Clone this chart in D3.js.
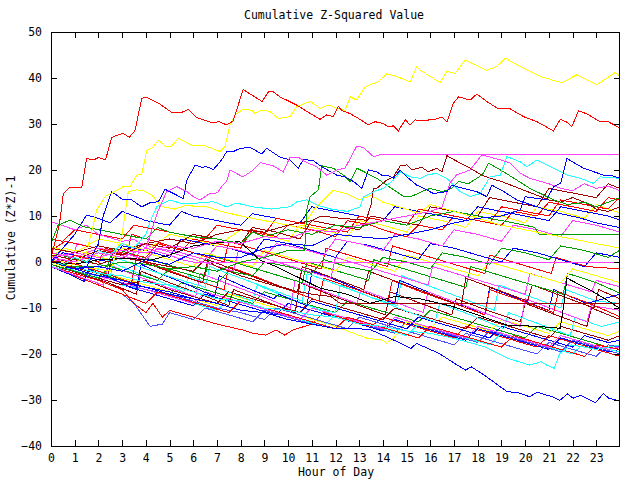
<!DOCTYPE html>
<html><head><meta charset="utf-8">
<script src="https://cdn.jsdelivr.net/npm/d3@7"></script>
<style>
body{margin:0;background:#fff;}
text{font-family:"DejaVu Sans Mono","Liberation Mono",monospace;font-size:11.5px;fill:#000;}
</style></head>
<body><svg id="c" width="640" height="480"></svg>
<script>
// ---------- DATA ----------
const title = "Cumulative Z-Squared Value";
const xLabel = "Hour of Day";
const yLabel = "Cumulative (Z*Z)-1";
const hourTicks = d3.range(0, 24);
const valueTicks = [-40,-30,-20,-10,0,10,20,30,40,50];

const redTop = [[0,1],[0.35,8],[0.52,14.9],[0.8,16.3],[1.3,16.3],[1.5,22.5],[1.8,22.2],[2.0,22.7],[2.3,22.2],[2.56,27.1],[3.04,28],[3.3,27.1],[3.54,28.5],[3.83,35.6],[4.04,35.8],[4.6,34.3],[5.1,32.5],[5.5,32.5],[5.8,33.2],[6.15,31.4],[6.8,30.3],[7.1,30.5],[7.4,29.8],[7.67,30.6],[7.83,33],[8.1,37.5],[8.47,36.3],[8.9,34.9],[9.17,37],[9.38,37],[9.66,35.9],[10.37,34.1],[10.93,32.3],[11.35,31],[11.63,32],[11.9,31.6],[12.12,33.8],[12.27,32.9],[12.6,32.3],[12.97,31.2],[13.39,29.8],[13.67,30.5],[14.02,30.1],[14.23,29.4],[14.44,29.6],[14.65,28.5],[14.94,30.9],[15.15,29.8],[15.36,30.9],[15.57,30.7],[16.2,31],[16.49,31.5],[16.7,30.4],[16.97,34.5],[17.19,35.9],[17.68,35.2],[17.96,36.5],[18.38,34.9],[18.87,33.3],[19.37,33.3],[19.93,31.6],[20.5,30.5],[21.19,28.5],[21.48,31],[21.76,30.4],[21.97,29.4],[22.25,32.9],[22.6,32.2],[23.16,30.5],[23.5,30.5],[24,29.1]];
const yellowTop = [[0,0],[0.5,-1],[1,-0.5],[1.5,2],[1.93,11.3],[2.28,14.2],[3.05,16.4],[3.33,16.4],[3.62,18.9],[3.83,19.1],[4.04,24.3],[4.25,24.7],[4.53,26.5],[4.81,25.2],[5.09,25.2],[5.37,26.9],[5.94,25.4],[6.43,25.4],[7.13,24],[7.34,25.1],[7.55,29.8],[7.76,32],[8.1,33.2],[8.47,33],[8.6,32.3],[8.89,33],[9.24,32.7],[9.59,31.2],[10.08,31.6],[10.37,33.8],[10.93,34.9],[11.35,33.4],[11.7,34.1],[12.05,33.4],[12.4,33],[12.62,35.9],[12.9,35.2],[13.25,38.1],[13.46,38.5],[13.81,39.2],[14.16,40.9],[14.59,40.3],[15.15,39.2],[15.43,42.5],[15.57,41.7],[16.41,39],[16.7,41.4],[17.05,41],[17.47,43.9],[18.38,41.7],[18.8,42.5],[19.16,44.3],[19.79,42.5],[20.35,41],[20.77,40.1],[21.55,39],[22.18,40.7],[23.02,38.5],[23.8,41.2],[24,40.4]];
const yellowMid = [[0,0],[1,-1],[2,-1.5],[2.5,-2],[3.0,6],[3.26,15.3],[3.62,15.7],[3.9,15.5],[4.25,14.6],[4.53,12.8],[4.74,12],[5.2,11.5],[5.73,12.4],[6.15,12],[6.57,12],[7.2,11],[8,10],[9,9],[10,8],[10.6,7.3],[11.07,11.3],[11.5,13.5],[11.9,15.6],[12.5,14.8],[13,13.5],[13.5,14.5],[14,13],[15,11.5],[15.5,10.5],[16,12.5],[17,11],[18,9.5],[19,8],[20,7],[21,6],[22,5],[23,4],[24,3]];
const blueUpper = [[0,0],[0.5,-1],[1,-1.5],[1.5,-1],[2,4],[2.2,10],[2.56,15.3],[3.05,13.5],[3.4,13.5],[3.83,12],[4.18,12.9],[4.53,13.1],[4.81,15.8],[5.16,14.9],[5.58,13.8],[5.73,17.8],[6.08,21.1],[6.36,20.6],[6.57,20.7],[6.85,20.1],[7.2,22.2],[7.41,24],[7.69,24],[7.97,24.7],[8.4,24.9],[8.89,23.5],[9.1,24.7],[9.66,22.8],[10.08,22.2],[10.43,20.4],[10.65,22.3],[11.07,22],[11.42,20.7],[12.05,18.9],[12.4,18.5],[12.76,17.5],[13.11,16],[13.39,20],[13.74,19.6],[13.95,18.9],[14.16,18.9],[14.44,18.2],[14.73,20],[15.01,18.5],[15.43,16.7],[15.57,16.4],[16.13,14.9],[16.7,15.3],[16.9,16.7],[17.4,16],[17.96,15.3],[18.38,14.2],[18.6,16.7],[19.1,15.3],[19.65,13.5],[20.2,12.5],[20.8,11.5],[21.5,10.5],[22.3,9.6],[23,8.5],[24,7.5]];
const blueLate = [[0,0],[1,-1.5],[2,-1],[3,-2],[4,0.5],[5,-0.5],[6,2],[7,1],[8,1],[9,3],[10,4],[11,3.5],[12,6],[13,5.5],[14,5],[15,6],[16,7],[17,8.5],[18,9.5],[19,10],[19.79,11.3],[20,14.2],[20.9,13.5],[21.2,16.4],[21.5,17.1],[21.76,22.5],[22.46,20.4],[23.3,18.9],[23.6,18.9],[24,18.2]];
const magentaFlatTop = [[0,1],[1,0],[2,2],[3,1],[4,3],[4.53,11.3],[4.88,15.3],[5.3,16.4],[5.73,15.3],[6,14.2],[6.29,13.5],[6.7,14.9],[6.92,14.9],[7.06,15.3],[7.2,16.4],[7.41,17.5],[7.55,20],[8.1,18.5],[8.53,20],[8.82,21.6],[9.38,20.9],[9.8,19.6],[10.08,22.8],[10.43,22.8],[10.72,21.8],[11.21,20.7],[11.63,18.9],[12.05,20],[12.4,20.4],[12.9,25.2],[13.18,24.9],[13.6,22.9],[13.95,23.4],[24,23.4]];
const blueBottom = [[0,0],[1,-1.5],[2,-3],[3,-4],[4,-5.5],[5,-6.5],[6,-8],[7,-9],[8,-10.5],[9,-11],[10,-12.5],[11,-13.5],[12,-14.5],[13,-14.5],[13.51,-14.8],[14.47,-17],[15.18,-18.8],[15.42,-17.7],[16.38,-19.9],[17.01,-22],[17.49,-23.5],[17.73,-22.8],[18.28,-24.6],[19.24,-28.2],[19.71,-28.4],[20.19,-29.3],[20.51,-28.3],[21.14,-29.3],[21.46,-30.1],[21.78,-28.7],[22.02,-29.6],[22.34,-29],[22.97,-30.6],[23.29,-28.6],[23.53,-29.6],[24,-30.2]];
const cyanBottom = [[0,0],[1,-1],[2,-2.5],[3,-3],[4,-4.5],[5,-5],[6,-6.5],[7,-8],[8,-8.5],[9,-10],[10,-10.5],[11,-11.5],[12,-12],[13,-13.5],[14,-14],[15,-15],[16,-15.5],[17,-16.6],[18.28,-18.4],[19.24,-20.9],[20.19,-22.4],[20.67,-21.7],[20.9,-22.4],[21.22,-23.1],[21.46,-19.9],[21.94,-18],[22.5,-18.5],[23,-19],[24,-18]];
const greenRise = [[0,0],[1,-1],[2,-1],[3,0],[4,-0.5],[5,-1.5],[6,-1],[7,-2],[8,0],[9,1],[10,2.5],[10.7,2.6],[10.79,11.3],[10.93,14.2],[11.28,15.7],[11.42,20.9],[11.9,20.4],[12.33,18.9],[12.62,17.5],[12.9,20.4],[13.32,19.3],[13.74,18.2],[14.16,16.7],[14.86,14.3],[15.22,14.3],[15.64,15.3],[15.99,16],[16.5,15.3],[16.9,16],[17.2,17.5],[17.6,17],[18.2,19],[18.45,21.5],[19.09,19.6],[19.65,17.8],[20.2,16],[21.2,13.5],[21.8,12.5],[22.5,13],[23,12],[23.5,13],[24,14]];
const greenFlat = [[0,4],[0.3,8],[0.8,9.1],[1.36,7.7],[2,7],[3,6],[4,5],[4.5,7.5],[5,6.5],[6,5.5],[7,5],[8,4],[8.5,6.5],[9,5.5],[10,7],[11,6],[12,8],[13,7.5],[14,9],[15,8],[16,10],[17,11],[18,10],[19,9],[20,8],[20.4,7.5],[20.6,6],[24,6]];
const magentaFlatZero = [[0,8.8],[1,7],[1.5,8],[2,6],[3,4.5],[3.5,5],[4,3],[5,1.5],[5.5,0.5],[6,0],[24,0]];
const darkredFlat = [[0,0],[1,0.5],[2,-0.5],[3,1],[4,0],[5,-1],[6,-2],[6.5,0.5],[7,-1],[8,-3],[9,-4.5],[10,-6],[11,-7],[11.8,-7.5],[12.2,-9],[24,-9]];
const blackLine = [[0,0],[1,-0.5],[2,0.5],[3.3,0.8],[4.2,0.4],[5,1.5],[6,3.5],[6.85,4.1],[7.97,4.4],[8.82,0.4],[9.5,-1],[10.37,-3.2],[11.35,-5.7],[12.5,-7],[13.46,-9],[14.5,-7.5],[15.57,-8],[16.97,-9.7],[18.38,-12.2],[19.23,-13.7],[20.5,-14],[21.48,-14.4],[21.62,-9.7],[21.76,-3.5],[22.88,-6.5],[23.45,-8.3],[24,-10.1]];
const darkredRise = [[0,3],[1,2],[2,3.5],[3,2.5],[4,4],[5,5],[6,4],[7,6],[8,7],[9,6.5],[10,8],[11,9],[11.4,10],[12.2,9.5],[13.3,9.1],[13.5,12.5],[13.6,16],[13.74,16],[14.16,17.8],[14.44,18.5],[14.73,20.9],[15.01,21.1],[15.22,20],[15.64,20.6],[15.92,19.6],[16.27,20.4],[16.49,19.6],[16.7,23.1],[17.26,21.5],[17.68,20.4],[18.17,18.9],[18.52,18.2],[19,17.5],[19.5,16.5],[20,15.5],[20.5,14.5],[21,13.5],[21.5,13],[22,14],[22.5,13],[23,11.5],[23.5,11],[24,12]];
const cyanRise = [[0,0],[0.5,-0.5],[1,1],[1.5,0],[2,2.5],[2.5,1.5],[3,4],[3.5,3],[4,6],[4.2,9],[4.46,12],[5.02,13.5],[5.44,12.8],[6.15,12.8],[6.85,13.1],[7.41,12],[7.83,12.8],[8.5,12],[9.3,11.5],[10.08,12],[10.37,13.1],[10.79,13.5],[11.21,12.4],[11.8,11.5],[12.5,11],[13.04,12],[13.18,14.2],[13.6,15.3],[14.02,16],[14.44,17.8],[14.73,19.6],[15.15,18.5],[15.57,18.2],[15.85,18.9],[16.27,19.3],[16.7,18.2],[17.26,15.3],[17.68,14.2],[18.1,14.9],[18.52,18.5],[18.95,18.9],[19.23,22.9],[19.79,21.8],[20.07,20.7],[20.5,22.2],[20.77,21.5],[21.2,20.4],[21.76,18.9],[22.32,18.2],[22.88,17.1],[23.16,18.5],[24,18.2]];
const magentaPeak = [[0,1],[1,2],[2,1],[3,2.5],[4,2],[5,3.5],[6,3],[7,4.5],[8,4],[9,5.5],[10,5],[11,7],[12,6.5],[13,8],[14,9],[15,10],[16,11],[16.5,12],[16.83,17.2],[17.1,18.9],[17.68,20],[18.17,23.3],[18.45,22.9],[18.95,22.2],[19.37,21.5],[19.79,19.3],[20.2,18.2],[21,17],[21.5,16],[22,15.5],[22.5,17],[23,16],[23.5,16.5],[24,15.5]];

const b01 = [[0,0.5],[0.5,-0.5],[1,1.5],[1.5,0.8],[2,0],[2.3,3],[3,2],[4,1],[4.5,4],[5.5,2.5],[6,5],[7,4],[8,3],[8.5,7],[9.5,5.5],[10,8],[11,7],[12,5.5],[12.5,9],[13.5,8],[14,7],[15,5.5],[15.5,8],[16.5,7],[17,10],[18,9],[19,8],[19.5,11],[20.5,10],[21,13],[22,12],[23,11],[23.5,14],[24,13.5]];
const b02 = [[0,-0.5],[1,-2],[2,-3.5],[2.5,-1],[3.5,-2.5],[4.5,-4],[5,-1.5],[6,-3],[7,-4.5],[7.5,-2],[8.5,-3],[9,0],[10,-1],[11,-2.5],[11.5,0.5],[12.5,-1],[13.5,-2],[14,1],[15,0],[16,-1.5],[16.5,2],[17.5,1],[18.5,-0.5],[19,3],[20,2],[21,0.5],[21.5,3.5],[22.5,2.5],[23.5,1],[24,2.6]];
const b03 = [[0,-1],[0.7,-2.5],[1.4,-4.2],[1.6,-1.5],[2.5,-3.5],[3.6,-6],[3.8,-0.5],[4.6,-2.5],[5.8,-5],[6.9,-7.5],[7.1,-3],[8.2,-5.5],[9.4,-8],[9.6,-7],[10.8,-9.5],[11,-2],[12.3,-4.5],[13.2,-6.5],[14.5,-9],[14.7,-4],[15.9,-6.5],[17.2,-9],[18.3,-11.5],[18.5,-5.5],[19.7,-8],[21,-10.5],[21.2,-6],[22.6,-9],[24,-7]];
const b04 = [[0,2],[1,1],[2,3],[3,2],[4,0.5],[4.5,3],[5.5,2],[6.5,0.5],[7,3.5],[8,2.5],[9,1],[9.5,4],[10.5,3],[11.5,1.5],[12,5],[13,4],[14,2.5],[14.5,6],[15.5,5],[16.5,3.5],[17,7],[18,6],[19,4.5],[19.5,8],[20.5,7],[21.5,5.5],[22,9],[23,8],[24,6.5]];
const b05 = [[0,0],[0.8,-1.5],[1.9,-3.5],[2.1,1],[3.2,-1.5],[4.5,-4],[5.6,-6.5],[5.8,-3],[7.2,-6],[8.5,-8.5],[8.7,-5],[10.1,-8],[11.4,-10.5],[12,-11],[12.2,-5],[13.4,-7.5],[14.9,-10.5],[16.2,-13],[16.4,-9],[17.7,-11.5],[19.1,-14.5],[19.3,-11],[20.6,-13.5],[21.9,-16],[22.1,-12],[23.2,-14],[24,-13]];
const b06 = [[0,-0.5],[1.2,-2.5],[2.4,-4.5],[3.6,-7],[3.8,-2],[5,-4.5],[6.3,-7],[7.5,-9.5],[7.7,-6],[9,-8.5],[10.3,-11],[10.5,-4.5],[11.7,-7],[13,-9.5],[14.1,-11.5],[14.3,-6.5],[15.6,-9],[16.9,-11.5],[17.1,-8],[18.4,-10.5],[19.8,-13],[20,-9],[21.3,-11.5],[22.6,-14],[22.8,-10],[24,-12.5]];
const b07 = [[0,1],[0.5,3],[1.5,2],[2.5,0.5],[3,3],[4,2],[5,0.5],[6,-1],[6.5,2],[7.5,0.5],[8.5,-1],[9,2.5],[10,1],[11,-0.5],[12,-2],[12.5,1],[13.5,-0.5],[14.5,-2],[15,1.5],[16,0],[17,-1.5],[18,-3],[18.5,0],[19.5,-1.5],[20.5,-3],[21.5,-4.5],[22,-1.5],[23,-3],[24,-4.5]];
const b08 = [[0,-1],[1,-3],[2,-5],[3,-7],[3.5,-9],[4.18,-14],[4.7,-13.5],[5,-11],[6,-12.5],[6.5,-10],[7.5,-11.5],[8.5,-13],[9,-10.5],[10,-12],[11,-13.5],[11.5,-11],[12.5,-12.5],[13.5,-14],[14.5,-15.5],[15,-13],[16,-14.5],[17,-16],[18,-17.5],[18.5,-15],[19.5,-16.5],[20.5,-18],[21.5,-19.5],[22,-17],[23,-18.5],[24,-20]];
const b09 = [[0,-1],[1,-2.5],[2,-4],[3,-6],[3.5,-9],[4,-11],[4.3,-9],[4.7,-12],[5,-10.5],[6,-12],[7,-13.5],[8.1,-14.8],[8.5,-15.5],[9.06,-15.9],[9.5,-14.8],[9.86,-15.9],[10.2,-14.8],[11,-13.5],[11.5,-11],[12.5,-12.5],[13.5,-14],[14,-12],[15,-13.5],[16,-15],[17,-16.5],[17.5,-14],[18.5,-15.5],[19.5,-17],[20.5,-18.5],[21,-16],[22,-17.5],[23,-19],[24,-20.5]];
const b10 = [[0,0],[1,-1],[2,-2.5],[3,-4],[4,-5.5],[5,-7],[5.5,-4.5],[6.5,-6],[7.5,-7.5],[8.5,-9],[9,-6.5],[10,-8],[11,-9.5],[12,-11],[12.5,-8.5],[13.5,-10],[14.5,-11.5],[15.5,-13],[16,-10.5],[17,-12],[18,-13.5],[19,-15],[20,-16.5],[20.5,-14],[21.5,-15.5],[22.5,-17],[23.5,-18.5],[24,-19]];
const b11 = [[0,-0.5],[1,-2],[2,-3.5],[3,-5],[4,-6.5],[5,-8],[6,-9.5],[6.5,-7],[7.5,-8.5],[8.5,-10],[9.5,-11.5],[10,-9],[11,-10.5],[12,-12],[13,-13.5],[14,-15],[14.5,-12.5],[15.5,-14],[16.5,-15.5],[17.5,-17],[18,-14.5],[19,-16],[20,-17.5],[21,-19],[21.5,-16.5],[22.5,-18],[23.5,-19.5],[24,-19]];
const b12 = [[0,0.5],[1,-0.5],[2,-2],[3,-3.5],[4,-5],[5,-6.5],[6,-8],[7,-9.5],[7.5,-7],[8.5,-8.5],[9.5,-10],[10.5,-11.5],[11,-12.5],[11.7,-13.5],[12.4,-14.8],[13.35,-16.6],[14,-17],[14.15,-17.7],[14.47,-16.4],[15,-13],[16,-14.5],[16.5,-12],[17.5,-13.5],[18.5,-15],[19,-12.5],[20,-14],[21,-15.5],[21.5,-13],[22.5,-14.5],[23.5,-16],[24,-15]];
const b13 = [[0,0],[0.9,1],[1.1,4],[2.3,2.5],[3.6,0.5],[3.8,4],[5.1,2],[6.4,0],[7.7,-2],[7.9,2.5],[9.2,0.5],[10.5,-1.5],[11.8,-3.5],[12,1],[13.3,-1],[14.6,-3],[15.9,-5],[16.1,-1],[17.4,-3],[18.7,-5],[20,-7],[20.2,-2.5],[21.5,-4.5],[22.8,-6.5],[23,-4],[24,-5.4]];
const b14 = [[0,-1],[1,-2],[2,-3.5],[3,-5],[4,-6],[5,-7.5],[6,-9],[7,-10.5],[7.5,-8],[8.5,-9.5],[9.5,-11],[10.5,-12.5],[11.5,-14],[12,-11.5],[13,-13],[14,-14.5],[15,-16],[15.5,-13.5],[16.5,-15],[17.5,-16.5],[18.5,-18],[19,-15.5],[20,-17],[21,-18.5],[22,-20],[22.5,-17.5],[23.5,-19],[24,-19.5]];
const b15 = [[0,1.5],[1,0.5],[2,2.5],[3,1.5],[4,4],[5,3],[6,6],[7,5],[8,4],[8.5,7.5],[9.5,6.5],[10.5,5],[11,9],[12,8],[13,7],[13.5,10],[14.5,9],[15.5,8],[16,12],[17,11],[18,10],[18.5,14],[19.5,13],[20.5,12],[21,16],[22,15],[23,14],[23.5,17],[24,16]];
const b16 = [[0,2.5],[0.6,4.5],[1.9,3],[3.2,1.5],[3.4,6],[4.7,4],[6,2],[7.3,0],[7.5,4.5],[8.8,2.5],[10.1,0.5],[11.4,-1.5],[11.6,3],[12.9,1],[14.2,-1],[14.4,3.5],[15.7,1.5],[17,-0.5],[18.3,-2.5],[18.5,1.5],[19.8,-0.5],[21.1,-2.5],[21.3,1],[22.6,-1],[24,-1.5]];
const b17 = [[0,0],[0.5,2],[1.5,1],[2.5,0],[3,3.5],[4,2.5],[5,1],[5.5,5],[6.5,4],[7.5,3],[8.5,1.5],[9,5],[10,4],[11,2.5],[12,1],[12.5,4.5],[13.5,3.5],[14.5,2],[15.5,0.5],[16,4],[17,3],[18,1.5],[19,0],[19.5,3],[20.5,2],[21.5,0.5],[22.5,-1],[23,2],[24,1]];
const b18 = [[0,-0.5],[1,-2],[2,-3],[3,-4.5],[4,-6],[5,-7],[6,-8.5],[7,-10],[8,-11],[9,-12.5],[9.5,-10],[10.5,-11.5],[11.5,-13],[12.5,-14.5],[13,-12],[14,-13.5],[15,-15],[16,-16.5],[17,-18],[17.5,-15.5],[18.5,-17],[19.5,-18.5],[20.5,-20],[21,-17.5],[22,-19],[23,-20.5],[23.5,-18],[24,-18.5]];
const b19 = [[0,2],[1.2,0.5],[2.4,-1],[2.6,3],[3.9,1],[5.2,-1],[6.5,-3],[6.7,1.5],[8,-0.5],[9.3,-2.5],[10.6,-4.5],[10.8,0],[12.1,-2],[13.4,-4],[13.6,0.5],[14.9,-1.5],[16.2,-3.5],[17.5,-5.5],[17.7,-1],[19,-3],[20.3,-5],[21.6,-7],[21.8,-2.5],[23,-4.5],[24,-6.8]];
const b20 = [[0,1],[1.1,-0.5],[2.3,-2.5],[3.4,-4.5],[3.6,1],[4.8,-1.5],[6.1,-4],[7.3,-6],[7.5,-1],[8.8,-3.5],[10,-6],[11.3,-8.5],[11.5,-3.5],[12.9,-6],[14.2,-8.5],[14.4,-4],[15.6,-6.5],[17,-9],[18.3,-11.5],[18.5,-6],[19.9,-8.5],[21.2,-11],[21.4,-6.5],[22.7,-9],[24,-11.9]];
const b21 = [[0,3.3],[1,2],[2,5],[3,4],[4,2.5],[5,6],[6,5],[7,3.5],[8,7],[9,6],[10,4.5],[10.5,8],[11.5,7],[12.5,5.5],[13,9],[14,8],[15,6.5],[15.5,10],[16.5,9],[17.5,7.5],[18,11],[19,10],[20,8.5],[20.5,12],[21.5,11],[22.5,9.5],[23,12.5],[24,10.6]];
const b22 = [[0,0],[1.3,-1.5],[2.5,-3],[2.7,1],[4,-1.5],[5.2,-3.5],[6.5,-5.5],[6.7,-1],[8,-3.5],[9.3,-6],[10.6,-8.5],[10.8,-2.5],[12.1,-5],[13.4,-7.5],[14.6,-9.5],[14.8,-3],[16.1,-5.5],[17.4,-8],[18.7,-10.5],[18.9,-5],[20.2,-7.5],[21.5,-10],[21.7,-6],[23,-8.5],[24,-9]];
const b23 = [[0,0],[1,-1.5],[2,-3],[3,-4.5],[4,-5.5],[5,-7],[6,-8],[7,-9],[7.5,-6.5],[8.5,-8],[9.5,-9.5],[10.5,-11],[11,-8.5],[12,-10],[13,-11.5],[14,-13],[15,-14.5],[15.5,-12],[16.5,-13.5],[17.5,-15],[18.5,-16.5],[19,-14],[20,-15.5],[21,-17],[22,-18.5],[22.5,-16],[23.5,-17.5],[24,-17]];
const b24 = [[0,-1],[1.1,-3],[2.2,-5],[2.4,-0.5],[3.6,-3],[4.9,-5.5],[6.1,-7.5],[6.3,-2.5],[7.6,-5],[8.9,-7.5],[10.1,-10],[10.3,-4],[11.6,-6.5],[12.9,-9],[13.1,-6],[14.4,-8.5],[15.7,-11],[15.9,-6.5],[17.2,-9],[18.5,-11.5],[19.8,-14],[20,-8],[21.3,-10.5],[22.6,-13],[22.8,-9.5],[24,-10.5]];
const b25 = [[0,0],[1,-1.5],[2,-3],[3,-4.5],[4,-6],[5,-7.5],[6,-9],[6.5,-6.5],[7.5,-8],[8.5,-9.5],[9.5,-11],[10.5,-12.5],[11,-10],[12,-11.5],[13,-13],[14,-14.5],[14.5,-12],[15.5,-13.5],[16.5,-15],[17.5,-16.5],[18,-14],[19,-15.5],[20,-17],[21,-18.5],[21.5,-16],[22.5,-17.5],[23.5,-19],[24,-18.5]];
const b26 = [[0,0],[1.2,-1.5],[2.4,-3],[2.6,2],[3.9,0],[5.2,-2.5],[6.4,-4.5],[6.6,0.5],[7.9,-2],[9.2,-4.5],[10.4,-6.5],[10.6,-1],[11.9,-3.5],[13.2,-6],[13.4,-2],[14.7,-4.5],[16,-7],[17.3,-9.5],[17.5,-3.5],[18.8,-6],[20.1,-8.5],[20.3,-5],[21.6,-7.5],[22.9,-10],[23.1,-6],[24,-8]];
const b27 = [[0,-0.5],[1,-2],[2,-3.5],[3,-5],[4,-4],[5,-6],[6,-7.5],[7,-9],[7.5,-6.5],[8.5,-8],[9.5,-9.5],[10.5,-11],[11,-8],[12,-9.5],[13,-11],[14,-12.5],[14.5,-10],[15.5,-11.5],[16.5,-13],[17.5,-14.5],[18,-12],[19,-13.5],[20,-15],[21,-16.5],[21.5,-14],[22.5,-15.5],[23.5,-17],[24,-16]];
const b28 = [[0,-1],[1,-3],[2,-5],[3,-7],[4,-9],[4.5,-6.5],[5.5,-8],[6.5,-9.5],[7.5,-11],[8,-8.5],[9,-10],[10,-11.5],[11,-13],[12,-14.5],[12.5,-12],[13.5,-13.5],[14.5,-15],[15.5,-16.5],[16,-14],[17,-15.5],[18,-17],[19,-18.5],[19.5,-16],[20.5,-17.5],[21.5,-19],[22.5,-20.5],[23,-18],[24,-19]];
const b29 = [[0,0],[0.5,3],[1,6],[1.5,10.2],[2,9.5],[2.5,8.5],[3,11],[3.5,10],[4,9],[5,8],[5.5,11],[6,10],[7,9],[8,8],[8.5,10.5],[9.5,9.5],[10.5,8.5],[11,12],[12,11],[13,10],[14,9],[14.5,12],[15.5,11],[16.5,10],[17.5,9],[18,12],[19,11],[20,10],[21,9],[21.5,12],[22.5,11],[23.5,10],[24,9.1]];
const b30 = [[0,5],[0.5,4.5],[1,7],[2,6],[3,5],[3.5,8],[4.5,7],[5.5,6],[6.5,5],[7,8],[8,7],[9,6],[9.5,9.5],[10.5,8.5],[11.5,7.5],[12.5,6.5],[13,10],[14,9],[15,8],[15.5,11.5],[16.5,10.5],[17.5,9.5],[18.5,8.5],[19,12],[20,11],[21,10],[21.5,13.5],[22.5,12.5],[23.5,11.5],[24,14.1]];

// series in drawing order, with a colour key each
const seriesData = [b08,b09,b10,b11,b12,b14,b18,b23,b25,b27,b28,b05,b06,b03,b24,b20,b22,b26,b19,b13,b07,b02,b16,b17,b04,b21,b01,b15,b29,b30,
  blueBottom,cyanBottom,darkredFlat,blackLine,magentaFlatZero,greenFlat,yellowMid,darkredRise,greenRise,cyanRise,magentaPeak,blueLate,blueUpper,magentaFlatTop,yellowTop,redTop];
const seriesColorKey = ["lightblue","red","green","blue","yellow","cyan","lightblue","blue","magenta","darkred","red","cyan","darkred","blue","magenta","red","cyan","darkred","green","magenta","yellow","green","red","blue","magenta","yellow","red","darkred","blue","red",
  "blue","cyan","darkred","black","magenta","green","yellow","darkred","green","cyan","magenta","blue","blue","magenta","yellow","red"];

// ---------- DRAW ----------
const palette = {red:"#ff0000",green:"#00a000",blue:"#0000ff",magenta:"#ff40ff",cyan:"#20ffff",darkred:"#a00000",yellow:"#ffff00",black:"#000000",lightblue:"#5050ff"};
const L=51, R=620, T=32, B=446;
const svg = d3.select("#c");
const x = d3.scaleLinear().domain([0,24]).range([L,R]);
const y = d3.scaleLinear().domain([-40,50]).range([B,T]);

svg.append("clipPath").attr("id","clip").append("rect").attr("x",L).attr("y",T).attr("width",R-L).attr("height",B-T);
const line = d3.line().x(d=>x(d[0])).y(d=>y(d[1]));
const g = svg.append("g").attr("clip-path","url(#clip)");
seriesData.forEach((s,i)=>{
  g.append("path").attr("d",line(s)).attr("fill","none")
   .attr("stroke",palette[seriesColorKey[i]]).attr("stroke-width",1)
   .attr("shape-rendering","crispEdges");
});

function styleAxis(sel){
  sel.select(".domain").remove();
  sel.selectAll(".tick line").attr("stroke","#000").attr("shape-rendering","crispEdges");
  sel.selectAll("text").attr("fill","#000").style("font-family",'"DejaVu Sans Mono",monospace').style("font-size","11.5px");
}
svg.append("g").attr("transform",`translate(0,${B})`)
  .call(d3.axisBottom(x).tickValues(hourTicks).tickFormat(d3.format("d")).tickSize(-6).tickPadding(8)).call(styleAxis);
svg.append("g").attr("transform",`translate(0,${T})`)
  .call(d3.axisTop(x).tickValues(hourTicks).tickFormat("").tickSize(-6)).call(styleAxis);
svg.append("g").attr("transform",`translate(${L},0)`)
  .call(d3.axisLeft(y).tickValues(valueTicks).tickFormat(d3.format("d")).tickSize(-6).tickPadding(9)).call(styleAxis);
svg.append("g").attr("transform",`translate(${R},0)`)
  .call(d3.axisRight(y).tickValues(valueTicks).tickFormat("").tickSize(-6)).call(styleAxis);

svg.append("rect").attr("x",L+0.5).attr("y",T+0.5).attr("width",R-L-1).attr("height",B-T)
  .attr("fill","none").attr("stroke","#000").attr("shape-rendering","crispEdges");

svg.append("text").attr("x",334).attr("y",19).attr("text-anchor","middle").text(title);
svg.append("text").attr("x",336).attr("y",476).attr("text-anchor","middle").text(xLabel);
svg.append("text").attr("transform","translate(15,238) rotate(-90)").attr("text-anchor","middle").text(yLabel);
</script></body></html>
